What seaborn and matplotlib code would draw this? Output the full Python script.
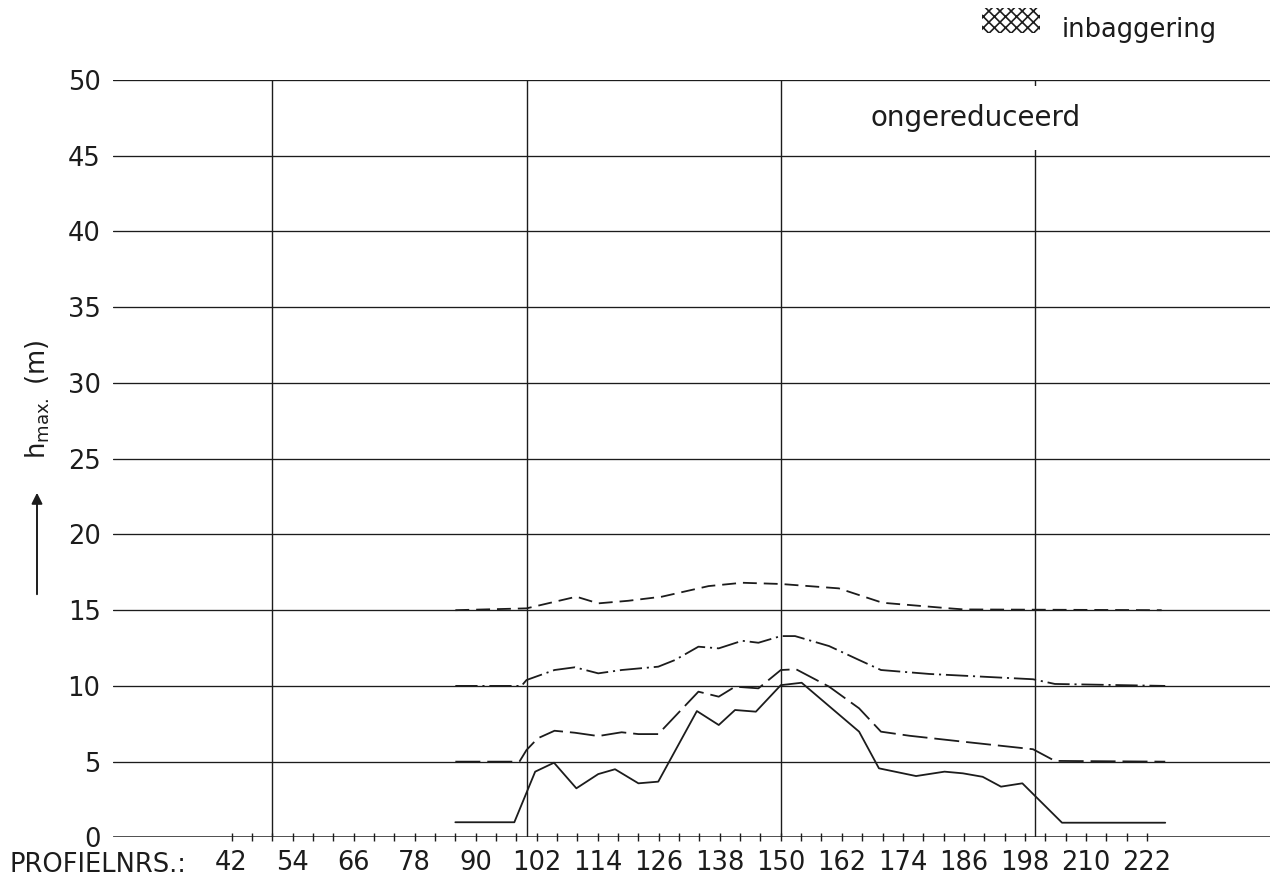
import numpy as np
import pandas as pd
import matplotlib
matplotlib.use("Agg")
import matplotlib.pyplot as plt
from matplotlib.patches import Rectangle, FancyArrowPatch
import seaborn as sns

# ---------------- data ----------------
p_solid = [86, 97.6, 101.7, 105.4, 109.8, 114.1, 117.4, 122, 125.9, 133.5, 137.8,
           141, 145.1, 150, 154.1, 165.4, 169.3, 176.6, 182.2, 185.8, 189.7, 193.3,
           197.5, 205.3, 225.6]
h_solid = [1.0, 1.0, 4.34, 4.93, 3.24, 4.18, 4.5, 3.57, 3.68, 8.34, 7.42,
           8.41, 8.30, 10.05, 10.21, 6.98, 4.56, 4.05, 4.34, 4.23, 4.0, 3.35,
           3.57, 0.97, 0.97]

p_long = [86, 98.6, 100, 102.2, 105.5, 109.5, 114.1, 118.7, 122, 125.9, 133.8,
          137.8, 141, 145.6, 150, 153, 159.5, 165.4, 169.7, 175.3, 185.8, 199.6,
          203.9, 225.6]
h_long = [5.0, 5.0, 5.77, 6.54, 7.04, 6.91, 6.69, 6.94, 6.82, 6.82, 9.62,
          9.29, 9.95, 9.84, 11.05, 11.1, 9.95, 8.52, 6.98, 6.71, 6.32, 5.82,
          5.05, 5.0]

p_dashdot = [86, 99, 100, 105.5, 109.5, 114.1, 118.7, 125.9, 129.2, 133.8, 137.8,
             142.4, 145.6, 150, 152.8, 159.5, 165.4, 169.7, 179.2, 199.6, 203.9, 225.6]
h_dashdot = [10.0, 10.0, 10.39, 11.05, 11.23, 10.83, 11.05, 11.27, 11.71, 12.59, 12.48,
             12.98, 12.85, 13.29, 13.29, 12.63, 11.71, 11.05, 10.79, 10.44, 10.13, 10.0]

p_short = [86, 100, 109.8, 114.1, 120, 126.6, 135.8, 142.4, 150, 161.4, 170,
           183.2, 186, 224.9]
h_short = [15.0, 15.12, 15.89, 15.45, 15.62, 15.89, 16.59, 16.81, 16.73, 16.44, 15.49,
           15.12, 15.05, 15.0]

y_ticks = [0, 5, 10, 15, 20, 25, 30, 35, 40, 45, 50]
x_labels = list(range(42, 223, 12))
x_minor = list(range(42, 223, 4))
v_lines = [50, 100, 150, 200]

# ---------------- style ----------------
sns.set_theme(style="white")
plt.rcParams["font.family"] = ["DejaVu Sans"]
plt.rcParams["lines.scale_dashes"] = False
plt.rcParams["hatch.linewidth"] = 1.2
INK = "#1c1c1c"

W, H = 1271, 876
fig = plt.figure(figsize=(W / 100, H / 100), dpi=100)
fig.patch.set_facecolor("white")

def fx(px):
    return px / W

def fy(py):
    return 1 - py / H

ax = fig.add_axes([fx(113), fy(837.4), fx(1270) - fx(113), fy(80) - fy(837.4)])
ax.set_facecolor("white")
ax.set_xlim(18.68, 246.2)
ax.set_ylim(0, 50)
for s in ax.spines.values():
    s.set_visible(False)

# grid
for yv in y_ticks[1:]:
    ax.axhline(yv, color=INK, lw=0.95, zorder=1)
ax.axhline(0, color=INK, lw=1.8, zorder=1)
ax.vlines(v_lines, 0, 50, color=INK, lw=1.0, zorder=1)

# series
LW = 1.3
sns.lineplot(x=p_solid, y=h_solid, ax=ax, color=INK, lw=LW, sort=False,
             estimator=None, zorder=3)
sns.lineplot(x=p_long, y=h_long, ax=ax, color=INK, lw=LW, sort=False,
             estimator=None, linestyle=(0, (18, 5)), zorder=3)
sns.lineplot(x=p_dashdot, y=h_dashdot, ax=ax, color=INK, lw=LW, sort=False,
             estimator=None, linestyle=(0, (16, 3.5, 1.5, 3.5)), zorder=3)
sns.lineplot(x=p_short, y=h_short, ax=ax, color=INK, lw=LW, sort=False,
             estimator=None, linestyle=(0, (10, 5)), zorder=3)

# ticks
FS = 18.5
ax.set_yticks(y_ticks)
ax.set_yticklabels([str(v) for v in y_ticks], fontsize=FS, color=INK)
ax.tick_params(axis="y", left=False, length=0, pad=9)
ax.set_xticks(x_labels)
ax.set_xticklabels([str(v) for v in x_labels], fontsize=FS, color=INK)
ax.set_xticks([v for v in x_minor if v not in x_labels], minor=True)
ax.tick_params(axis="x", which="both", bottom=True, direction="inout", length=6,
               width=1.0, color=INK, pad=6)
ax.set_xlabel("")
ax.set_ylabel("")

fig.text(fx(9), fy(865), "PROFIELNRS.:", fontsize=FS, color=INK,
         ha="left", va="center")

# y label with arrow
fig.text(fx(38), fy(400), r"$\mathregular{h_{max.}}$ (m)", rotation=90,
         fontsize=FS, color=INK, ha="center", va="center")
fig.add_artist(FancyArrowPatch(
    (fx(37), fy(597)), (fx(37), fy(490)), transform=fig.transFigure,
    arrowstyle="-|>", mutation_scale=16, color=INK, lw=1.4))

# annotations
fig.text(fx(976), fy(118), "ongereduceerd", fontsize=20, color=INK,
         ha="center", va="center", zorder=5,
         bbox=dict(facecolor="white", edgecolor="none", pad=13))

fig.patches.append(Rectangle((fx(982), fy(33)), fx(1040) - fx(982), fy(8) - fy(33),
                             transform=fig.transFigure, facecolor="white",
                             edgecolor=INK, hatch="xxx", linewidth=0))
fig.text(fx(1062), fy(30), "inbaggering", fontsize=FS, color=INK,
         ha="left", va="center")

fig.savefig("out.png", dpi=100, facecolor="white")
